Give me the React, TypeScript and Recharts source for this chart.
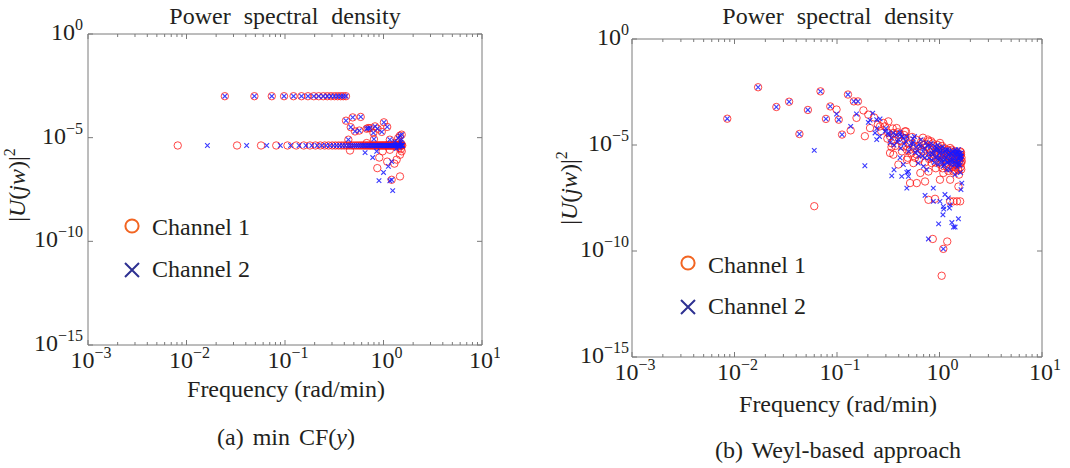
import React from 'react';
import { ScatterChart, Scatter, XAxis, YAxis } from 'recharts';

// ---------- styling ----------
const FONT = '"Liberation Serif", "Times New Roman", Times, serif';
const AXIS_COLOR = '#7a7a7a';
const TEXT_COLOR = '#231f20';
const CH1_COLOR = 'rgba(255, 25, 25, 0.8)';
const CH2_COLOR = 'rgba(25, 25, 255, 0.85)';
const LEGEND_CH1 = '#f26522';
const LEGEND_CH2 = '#2e3192';

// ---------- ticks ----------
const xMajorTicks = [0.001, 0.01, 0.1, 1, 10];
const xMinorMultipliers = [2, 3, 4, 5, 6, 7, 8, 9];
const yMajorTicks = [1e-15, 1e-10, 1e-5, 1];
const xAllTicks: number[] = [];
xMajorTicks.forEach((d, i) => {
  xAllTicks.push(d);
  if (i < xMajorTicks.length - 1) xMinorMultipliers.forEach((m) => xAllTicks.push(Number((m * d).toPrecision(3))));
});

// ---------- panel (a): min CF(y) ----------
const LEFT_UPPER_LEVEL = 1.0e-3;
const LEFT_ROW_LEVEL = 4.2e-6;
const leftUpperRowFreq = [0.0245, 0.0489, 0.0734, 0.0978, 0.122, 0.147, 0.171, 0.196, 0.22, 0.245, 0.269, 0.293, 0.318, 0.342, 0.367, 0.391, 0.416];
const leftCh1RowFreq = [0.00815, 0.0326, 0.0571, 0.0815, 0.106, 0.13, 0.155, 0.179, 0.204, 0.228, 0.253, 0.277, 0.302, 0.326, 0.351, 0.375, 0.399,
  0.424, 0.448, 0.473, 0.497, 0.522, 0.546, 0.571, 0.595, 0.62, 0.644, 0.668, 0.693, 0.717, 0.742, 0.766, 0.79, 0.815, 0.839, 0.864, 0.888, 0.913,
  0.937, 0.962, 0.986, 1.01, 1.04, 1.06, 1.08, 1.11, 1.13, 1.16, 1.18, 1.21, 1.23, 1.26, 1.28, 1.3, 1.33, 1.35, 1.38, 1.4, 1.43, 1.45, 1.48, 1.5, 1.52, 1.55];
const leftCh2RowFreq = [0.0163, 0.0408, 0.0652, 0.0897, 0.114, 0.139, 0.163, 0.187, 0.212, 0.236, 0.261, 0.285, 0.31, 0.334, 0.359, 0.383, 0.408,
  0.436, 0.46, 0.485, 0.509, 0.534, 0.558, 0.583, 0.607, 0.632, 0.656, 0.681, 0.705, 0.729, 0.754, 0.778, 0.803, 0.827, 0.852, 0.876, 0.9, 0.925,
  0.949, 0.974, 0.998, 1.02, 1.05, 1.07, 1.1, 1.12, 1.15, 1.17, 1.19, 1.22, 1.24, 1.27, 1.29, 1.32, 1.34, 1.37, 1.39, 1.42, 1.44, 1.46, 1.49, 1.51, 1.54, 1.56];
const leftSharedPoints: [number, number][] = [
  [0.416, 6.6e-5], [0.487, 9.5e-5], [0.587, 1.0e-4], [0.465, 3.2e-5], [0.514, 2.0e-5], [0.568, 2.2e-5], [0.675, 2.7e-5], [0.7, 2.9e-5],
  [0.73, 2.9e-5], [0.79, 1.7e-5], [0.82, 3.5e-5], [0.87, 2.7e-5], [0.96, 1.9e-5], [1.01, 5.5e-5], [1.09, 3.3e-5], [0.44, 8e-6],
  [1.41, 9.6e-6], [1.47, 1.25e-5], [1.53, 1.4e-5], [1.16, 8e-6], [0.8, 8.5e-6], [1.21, 9.3e-8],
];
const leftCh1Points: [number, number][] = [
  [0.457, 2.4e-6], [0.906, 1.1e-6], [0.865, 3.4e-7], [1.09, 7e-7], [1.29, 5.6e-7], [1.36, 8.7e-7], [1.47, 1.35e-7], [1.34, 5.5e-6],
  [1.43, 3.2e-6], [1.47, 1.5e-6], [1.53, 2.2e-6], [0.98, 2.2e-6], [0.675, 5.5e-6], [1.16, 2.6e-6], [1.5, 2.8e-6], [1.52, 5e-6],
];
const leftCh2Points: [number, number][] = [
  [0.65, 1.9e-6], [0.777, 1.1e-6], [1.0, 2.1e-7], [0.9, 8.5e-8], [1.16, 8.3e-8], [1.24, 2.8e-8], [1.12, 4.1e-7], [1.21, 7e-7],
  [0.853, 2.2e-6], [1.4, 5e-6], [1.45, 3.5e-6], [1.5, 6e-6], [1.55, 4.5e-6], [1.35, 3e-6], [1.3, 6.5e-6], [1.52, 8e-6],
];

// ---------- panel (b): Weyl-based approach ----------
const rightSharedPoints: [number, number][] = [
  [0.0085, 1.74e-4], [0.017, 5.3e-3], [0.0256, 6.2e-4], [0.0341, 1.1e-3], [0.043, 3.3e-5], [0.052, 4.5e-4], [0.069, 3.4e-3],
  [0.078, 1.7e-4], [0.086, 6.6e-4], [0.104, 1.56e-4], [0.112, 3.1e-5], [0.128, 2.4e-3], [0.146, 1.14e-3], [0.16, 1.14e-3],
  [0.317, 3.7e-5], [0.355, 3.7e-5], [0.412, 3.1e-5], [1.09, 1.26e-10],
];
const rightCh1Points: [number, number][] = [
  [0.06, 1.3e-8], [0.099, 4.7e-4], [0.136, 4.9e-5], [0.155, 1.9e-4], [0.181, 4.3e-4], [0.202, 2.7e-4], [0.187, 2.6e-5], [0.21, 6.3e-5],
  [0.283, 1.1e-4], [0.317, 1.3e-4], [0.263, 7.6e-5], [0.471, 4.4e-5], [0.444, 8.5e-6], [0.48, 6e-6], [0.329, 4.2e-6], [0.355, 3.5e-6],
  [0.48, 2e-6], [0.294, 7.6e-5], [0.329, 2.6e-5], [0.342, 1.2e-5], [0.382, 6.3e-5], [0.397, 1.2e-6], [0.516, 1.6e-7], [0.46, 4.4e-5],
  [0.556, 1.4e-6], [0.6, 1.6e-7], [0.723, 1.9e-7], [0.905, 2.9e-8], [0.696, 1e-5], [0.873, 6e-6], [0.84, 1.4e-6], [1.05, 2e-6],
  [1.18, 2.9e-6], [1.37, 1.4e-6], [1.65, 1.7e-6], [1.09, 4.8e-7], [1.27, 2.3e-7], [1.53, 1.1e-7], [1.59, 2.2e-8], [1.01, 2.3e-7],
  [0.78, 5.6e-7], [0.65, 4.8e-7], [0.516, 6e-6], [0.578, 2.5e-6], [1.37, 5.6e-7], [1.53, 6.8e-7], [1.59, 3.5e-6], [1.62, 1.4e-6],
  [0.94, 3.5e-6], [1.27, 7.2e-6], [1.01, 1.25e-5], [0.78, 1.5e-5], [0.86, 3.7e-10], [1.19, 2.8e-10], [1.05, 6.8e-12], [0.78, 2.6e-8],
  [1.27, 2.2e-8], [1.37, 2.2e-8], [1.48, 2.2e-8],
];
const rightCh1Cluster: [number, number][] = [
  [0.62, 9e-6], [0.66, 1.4e-5], [0.7, 5e-6], [0.73, 1.1e-5], [0.76, 3e-6], [0.8, 7e-6], [0.83, 1.5e-5], [0.85, 2.5e-6], [0.88, 9e-6],
  [0.91, 1.5e-6], [0.93, 5e-6], [0.96, 1e-5], [0.99, 3e-6], [1.02, 1.2e-6], [1.04, 6e-6], [1.07, 8e-7], [1.1, 3.5e-6], [1.12, 7e-6],
  [1.15, 2e-6], [1.17, 1e-6], [1.2, 4e-6], [1.22, 6e-7], [1.25, 2.5e-6], [1.28, 5e-6], [1.3, 1.5e-6], [1.33, 3.5e-6], [1.35, 9e-7],
  [1.38, 4.5e-6], [1.4, 2.2e-6], [1.43, 6e-7], [1.45, 3e-6], [1.48, 1.2e-6], [1.5, 4e-6], [1.53, 2e-6], [1.55, 4e-7], [1.57, 3e-6],
  [1.6, 1.5e-6], [1.62, 3.5e-6], [1.63, 7e-7], [1.58, 2.5e-6], [0.46, 2e-5], [0.5, 1.1e-5], [0.54, 2.4e-5], [0.57, 7e-6], [0.4, 2.2e-5],
  [0.36, 1.6e-5], [0.34, 8e-6], [0.27, 4.5e-5], [0.23, 2e-4], [0.25, 9e-5],
];
const rightCh1Dense: [number, number][] = [
  [0.31, 2e-5], [0.35, 6e-5], [0.37, 9e-6], [0.39, 4e-5], [0.42, 1.5e-5], [0.43, 5e-6], [0.45, 3e-5], [0.49, 2.5e-6], [0.51, 1.6e-5],
  [0.53, 4e-6], [0.56, 9e-6], [0.59, 1.8e-5], [0.6, 3.5e-6], [0.63, 2e-6], [0.67, 6e-6], [0.69, 2.2e-5], [0.72, 1.5e-6], [0.75, 8e-6],
  [0.77, 1.8e-5], [0.79, 2.2e-6], [0.82, 4.5e-6], [0.86, 1.2e-5], [0.89, 3.5e-6], [0.92, 8e-7], [0.95, 4e-6], [0.98, 7e-6], [1.0, 1.5e-6],
  [1.03, 4e-6], [1.06, 9e-6], [1.09, 2.5e-6], [1.13, 5e-6], [1.16, 1.4e-6], [1.19, 6e-6], [1.23, 3e-6], [1.26, 8e-7], [1.29, 3e-6],
  [1.32, 6e-6], [1.36, 2.5e-6], [1.39, 1.3e-6], [1.41, 5e-6], [1.44, 9e-7], [1.46, 2e-6], [1.49, 3.5e-6], [1.51, 7e-7], [1.54, 3e-6],
  [1.56, 1.8e-6], [1.59, 5e-6], [1.61, 9e-7], [1.64, 2.5e-6], [1.62, 4.5e-6],
];
const rightCh2Points: [number, number][] = [
  [0.06, 5.6e-6], [0.099, 2.9e-4], [0.136, 7.6e-5], [0.155, 2.9e-4], [0.223, 3.2e-4], [0.202, 1.17e-4], [0.244, 1.8e-5], [0.235, 3.7e-5],
  [0.263, 1.7e-4], [0.294, 4.4e-5], [0.397, 1.8e-5], [0.444, 2.1e-5], [0.412, 2.5e-6], [0.187, 1.05e-6], [0.342, 3.5e-7], [0.36, 6.8e-7],
  [0.497, 5.6e-7], [0.48, 9.3e-8], [0.428, 3.3e-7], [0.43, 2.6e-5], [0.444, 1.2e-6], [0.48, 5.1e-7], [0.497, 3.3e-7], [0.723, 4.2e-8],
  [1.01, 2.2e-8], [1.13, 4.6e-8], [1.22, 3.2e-8], [1.27, 1.5e-8], [1.25, 1.07e-8], [0.87, 9.3e-8], [0.62, 1.4e-6], [0.696, 9.8e-7],
  [0.75, 6.8e-7], [1.59, 2.9e-6], [1.62, 2e-6], [1.65, 1.6e-7], [1.62, 7.9e-8], [1.42, 4e-7], [1.09, 9.8e-7], [1.27, 1.7e-6],
  [1.01, 2.5e-6], [0.84, 4.2e-6], [0.65, 8.5e-6], [0.556, 1.25e-5], [0.94, 7.2e-6], [1.48, 4.2e-6], [1.18, 6.8e-7], [1.53, 1.2e-6],
  [0.78, 3.7e-10], [0.98, 1.9e-9], [1.08, 5.1e-9], [1.09, 1.26e-8], [1.1, 9.5e-9], [1.32, 2.2e-9], [1.37, 1.35e-9], [1.42, 1.35e-9],
  [1.53, 3.3e-9], [0.87, 2.2e-8], [0.244, 1.56e-4],
];
const rightCh2Cluster: [number, number][] = [
  [0.61, 5e-6], [0.64, 1.1e-5], [0.68, 3e-6], [0.71, 7e-6], [0.74, 1.3e-5], [0.78, 4e-6], [0.81, 8e-6], [0.84, 2e-6], [0.87, 5e-6],
  [0.9, 9e-6], [0.92, 2.5e-6], [0.95, 6e-6], [0.97, 1.2e-6], [1.0, 4e-6], [1.03, 7e-6], [1.06, 2e-6], [1.08, 4.5e-6], [1.11, 1.2e-6],
  [1.14, 5e-6], [1.16, 2.5e-6], [1.19, 6e-6], [1.21, 1.5e-6], [1.24, 3.5e-6], [1.26, 7e-7], [1.29, 4e-6], [1.32, 2e-6], [1.34, 5e-6],
  [1.37, 3e-6], [1.39, 1.2e-6], [1.42, 4e-6], [1.44, 1.8e-6], [1.47, 3.5e-6], [1.49, 9e-7], [1.52, 4.5e-6], [1.54, 2.2e-6], [1.56, 3.8e-6],
  [1.59, 1.1e-6], [1.61, 3e-6], [1.63, 4.2e-6], [1.6, 5e-7], [0.47, 1.5e-5], [0.52, 8e-6], [0.55, 2e-5], [0.58, 4.5e-6], [0.38, 3e-5],
  [0.33, 1.3e-5], [0.3, 6e-5], [0.26, 2.5e-5], [0.21, 1.5e-4], [0.245, 6e-5],
];
const rightCh2Dense: [number, number][] = [
  [0.32, 3e-5], [0.34, 2.2e-5], [0.36, 1e-5], [0.39, 1.4e-5], [0.41, 4e-5], [0.42, 7e-6], [0.45, 1.1e-5], [0.48, 2.5e-5], [0.5, 5e-6],
  [0.53, 1.2e-5], [0.57, 2.5e-5], [0.59, 8e-6], [0.63, 3e-6], [0.66, 1.8e-5], [0.69, 5e-6], [0.72, 2.5e-6], [0.76, 9e-6], [0.79, 2.5e-6],
  [0.83, 1.2e-5], [0.86, 3.5e-6], [0.89, 1.5e-6], [0.91, 6e-6], [0.94, 3e-6], [0.96, 1e-5], [0.99, 2e-6], [1.02, 5e-6], [1.05, 1.5e-6],
  [1.07, 8e-6], [1.1, 3e-6], [1.13, 2e-6], [1.15, 6e-6], [1.18, 1.5e-6], [1.2, 3.5e-6], [1.23, 5.5e-6], [1.25, 2e-6], [1.28, 3e-6],
  [1.31, 1.2e-6], [1.33, 4.5e-6], [1.36, 1.8e-6], [1.38, 5e-6], [1.41, 2.5e-6], [1.43, 6e-6], [1.46, 1.3e-6], [1.48, 5e-6], [1.51, 2.5e-6],
  [1.53, 6e-6], [1.55, 1.5e-6], [1.58, 4e-6], [1.6, 2.5e-6], [1.64, 3e-6],
];

type Pt = { f: number; p: number };
const toPt = ([f, p]: [number, number]): Pt => ({ f, p });

const leftCh1: Pt[] = [
  ...leftUpperRowFreq.map((f) => ({ f, p: LEFT_UPPER_LEVEL })),
  ...leftCh1RowFreq.map((f) => ({ f, p: LEFT_ROW_LEVEL })),
  ...leftSharedPoints.map(toPt),
  ...leftCh1Points.map(toPt),
];
const leftCh2: Pt[] = [
  ...leftUpperRowFreq.map((f) => ({ f, p: LEFT_UPPER_LEVEL })),
  ...leftCh2RowFreq.map((f) => ({ f, p: LEFT_ROW_LEVEL })),
  ...leftSharedPoints.map(toPt),
  ...leftCh2Points.map(toPt),
];
const rightCh1: Pt[] = [
  ...rightSharedPoints.map(toPt), ...rightCh1Points.map(toPt), ...rightCh1Cluster.map(toPt), ...rightCh1Dense.map(toPt),
];
const rightCh2: Pt[] = [
  ...rightSharedPoints.map(toPt), ...rightCh2Points.map(toPt), ...rightCh2Cluster.map(toPt), ...rightCh2Dense.map(toPt),
];

// ---------- helpers ----------
const isMajor = (v: number) => Math.abs(Math.log10(v) - Math.round(Math.log10(v))) < 1e-6;
const expLabel = (v: number) => {
  const e = Math.round(Math.log10(v));
  return e < 0 ? `\u2212${-e}` : `${e}`;
};
const TICK_FS = 24;
const SUP_FS = 16;

const BottomTick = (props: any) => {
  const { x, y, payload } = props;
  const v = payload.value as number;
  const major = isMajor(v);
  return (
    <g>
      <line x1={x} x2={x} y1={y} y2={y - (major ? 5 : 3)} stroke={AXIS_COLOR} strokeWidth={1} />
      {major && (
        <text x={x + 3} y={y + 23} textAnchor="middle" fontFamily={FONT} fontSize={TICK_FS} fill={TEXT_COLOR}>
          10<tspan dy={-10} fontSize={SUP_FS}>{expLabel(v)}</tspan>
        </text>
      )}
    </g>
  );
};
const TopTick = (props: any) => {
  const { x, y, payload } = props;
  const major = isMajor(payload.value);
  return <line x1={x} x2={x} y1={y} y2={y + (major ? 5 : 3)} stroke={AXIS_COLOR} strokeWidth={1} />;
};
const makeLeftTick = (gap: number) => (props: any) => {
  const { x, y, payload } = props;
  const v = payload.value as number;
  return (
    <g>
      <line x1={x} x2={x + 5} y1={y} y2={y} stroke={AXIS_COLOR} strokeWidth={1} />
      <text x={x - gap} y={y + 6} textAnchor="end" fontFamily={FONT} fontSize={TICK_FS} fill={TEXT_COLOR}>
        10<tspan dy={-10} fontSize={SUP_FS}>{expLabel(v)}</tspan>
      </text>
    </g>
  );
};
const RightTick = (props: any) => {
  const { x, y } = props;
  return <line x1={x} x2={x - 5} y1={y} y2={y} stroke={AXIS_COLOR} strokeWidth={1} />;
};

const CircleShape = (props: any) => {
  const { cx, cy } = props;
  if (cx == null || cy == null) return <g />;
  return <circle cx={cx} cy={cy} r={3.7} fill="none" stroke={CH1_COLOR} strokeWidth={1} />;
};
const XShape = (props: any) => {
  const { cx, cy } = props;
  if (cx == null || cy == null) return <g />;
  const s = 2.3;
  return (
    <path d={`M${cx - s},${cy - s}L${cx + s},${cy + s}M${cx - s},${cy + s}L${cx + s},${cy - s}`} fill="none" stroke={CH2_COLOR} strokeWidth={1.1} />
  );
};

type PanelProps = {
  width: number;
  height: number;
  margin: { top: number; right: number; bottom: number; left: number };
  ch1: Pt[];
  ch2: Pt[];
  labelGap: number;
};

// Axes get a 1px box (a 0px box is not drawn); margins are reduced by that 1px.
function PsdPanel({ width, height, margin, ch1, ch2, labelGap }: PanelProps) {
  const axisLine = { stroke: AXIS_COLOR, strokeWidth: 1 };
  const m = { top: margin.top - 1, right: margin.right - 1, bottom: margin.bottom - 1, left: margin.left - 1 };
  return (
    <ScatterChart width={width} height={height} margin={m}>
      <XAxis xAxisId="b" dataKey="f" type="number" scale="log" domain={[1e-3, 10]} allowDataOverflow ticks={xAllTicks}
        interval={0} height={1} tickSize={0} tickMargin={0} tickLine={false} axisLine={axisLine} tick={BottomTick} />
      <XAxis xAxisId="t" orientation="top" dataKey="f" type="number" scale="log" domain={[1e-3, 10]} allowDataOverflow ticks={xAllTicks}
        interval={0} height={1} tickSize={0} tickMargin={0} tickLine={false} axisLine={axisLine} tick={TopTick} />
      <YAxis yAxisId="l" dataKey="p" type="number" scale="log" domain={[1e-15, 1]} allowDataOverflow ticks={yMajorTicks}
        interval={0} width={1} tickSize={0} tickMargin={0} tickLine={false} axisLine={axisLine} tick={makeLeftTick(labelGap)} />
      <YAxis yAxisId="r" orientation="right" dataKey="p" type="number" scale="log" domain={[1e-15, 1]} allowDataOverflow ticks={yMajorTicks}
        interval={0} width={1} tickSize={0} tickMargin={0} tickLine={false} axisLine={axisLine} tick={RightTick} />
      <Scatter name="Channel 1" xAxisId="b" yAxisId="l" data={ch1} shape={CircleShape} isAnimationActive={false} />
      <Scatter name="Channel 2" xAxisId="b" yAxisId="l" data={ch2} shape={XShape} isAnimationActive={false} />
    </ScatterChart>
  );
}

const txt = { fontFamily: FONT, fill: TEXT_COLOR } as const;

function LegendBlock({ x, y1, y2, t1, t2 }: { x: number; y1: number; y2: number; t1: number; t2: number }) {
  return (
    <g>
      <circle cx={x} cy={y1} r={6.6} fill="none" stroke={LEGEND_CH1} strokeWidth={2} />
      <text x={x + 20} y={t1} fontSize={24} {...txt}>Channel 1</text>
      <path d={`M${x - 7},${y2 - 7}L${x + 7},${y2 + 7}M${x - 7},${y2 + 7}L${x + 7},${y2 - 7}`} stroke={LEGEND_CH2} strokeWidth={2} fill="none" />
      <text x={x + 20} y={t2} fontSize={24} {...txt}>Channel 2</text>
    </g>
  );
}

function YLabel({ x, y }: { x: number; y: number }) {
  return (
    <text transform={`translate(${x},${y}) rotate(-90)`} textAnchor="middle" fontSize={24} {...txt}>
      |<tspan fontStyle="italic">U</tspan>(<tspan fontStyle="italic">jw</tspan>)|<tspan dy={-10} fontSize={16}>2</tspan>
    </text>
  );
}

export default function App() {
  return (
    <div style={{ position: 'absolute', left: 0, top: 0, width: 1070, height: 468, background: '#ffffff', overflow: 'hidden' }}>
      <div style={{ position: 'absolute', left: 0, top: 0 }}>
        <PsdPanel width={500} height={400} margin={{ top: 34, right: 18, bottom: 55, left: 88 }} ch1={leftCh1} ch2={leftCh2} labelGap={5} />
      </div>
      <div style={{ position: 'absolute', left: 540, top: 0 }}>
        <PsdPanel width={530} height={420} margin={{ top: 39, right: 28, bottom: 63, left: 92 }} ch1={rightCh1} ch2={rightCh2} labelGap={3} />
      </div>
      <svg width={1070} height={468} style={{ position: 'absolute', left: 0, top: 0, pointerEvents: 'none' }}>
        <text x={285} y={24} textAnchor="middle" fontSize={24} wordSpacing={7} {...txt}>Power spectral density</text>
        <text x={838} y={24} textAnchor="middle" fontSize={24} wordSpacing={7} {...txt}>Power spectral density</text>
        <text x={286} y={397} textAnchor="middle" fontSize={24} {...txt}>Frequency (rad/min)</text>
        <text x={838} y={412} textAnchor="middle" fontSize={24} {...txt}>Frequency (rad/min)</text>
        <text x={286} y={445} textAnchor="middle" fontSize={24} wordSpacing={3} {...txt}>
          (a) min CF(<tspan fontStyle="italic">y</tspan>)
        </text>
        <text x={838} y={458} textAnchor="middle" fontSize={24} wordSpacing={3} {...txt}>(b) Weyl-based approach</text>
        <YLabel x={25} y={185} />
        <YLabel x={577} y={188} />
        <LegendBlock x={132} y1={226} y2={270} t1={235} t2={277} />
        <LegendBlock x={688} y1={263} y2={307} t1={273} t2={314} />
      </svg>
    </div>
  );
}
